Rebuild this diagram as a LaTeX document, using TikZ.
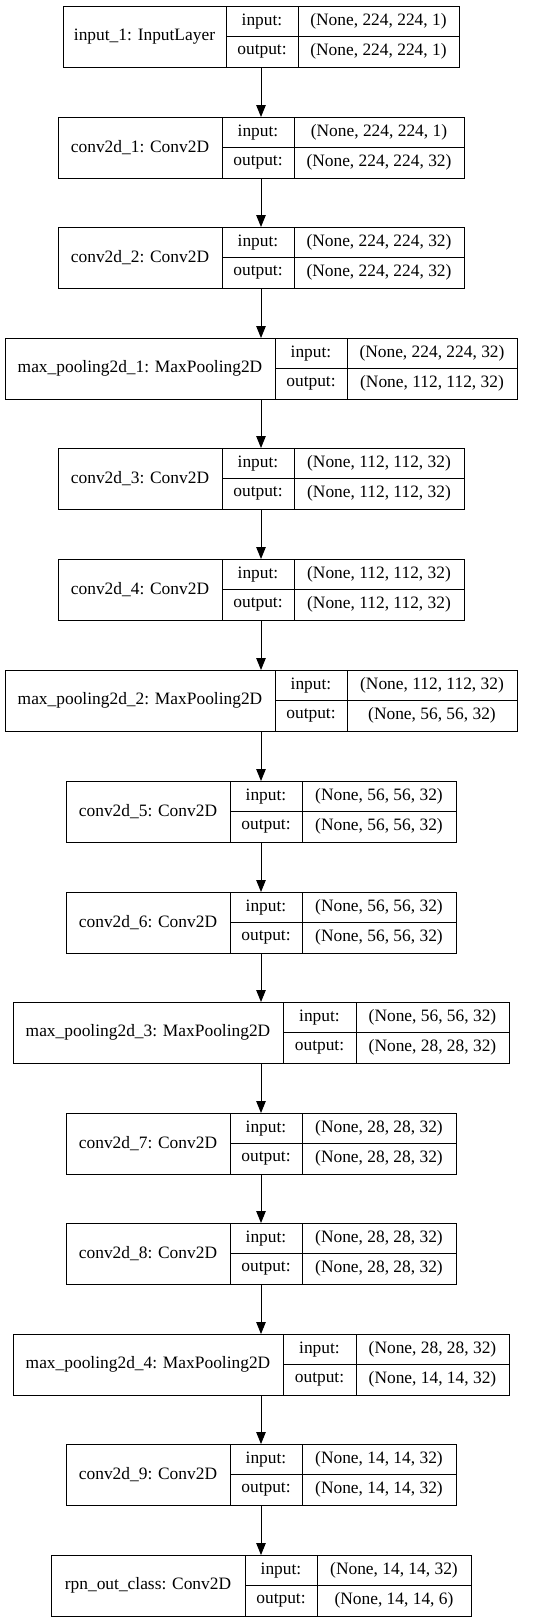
\documentclass[tikz,border=0pt]{standalone}
\usepackage{fontspec}
\setmainfont{Liberation Serif}
\usetikzlibrary{arrows.meta}
\tikzset{
  boxfr/.style={draw=black, line width=1pt, inner sep=0pt, outer sep=0pt},
  cellbox/.style={draw=black, line width=1pt, inner sep=0pt, outer sep=0pt, font=\fontsize{17.4}{20}\selectfont, text=black},
  arr/.style={draw=black, line width=1pt, -{Triangle[length=12pt,width=9.5pt]}}
}
\newcommand{\layerbox}[9]{%
  \pgfmathsetmacro{\wa}{#4-#3}%
  \pgfmathsetmacro{\wb}{#5-#4}%
  \pgfmathsetmacro{\wc}{#6-#5}%
  \pgfmathsetmacro{\wt}{#6-#3}%
  \node[boxfr, minimum width=\wt pt, minimum height=61pt, anchor=north west] (#1) at (#3pt,-#2pt) {};
  \node[cellbox, minimum width=\wa pt, minimum height=61pt, anchor=north west] (#1n) at (#3pt,-#2pt) {#7};
  \node[cellbox, minimum width=\wb pt, minimum height=30.5pt, anchor=north west] (#1i) at (#4pt,-#2pt) {input:};
  \node[cellbox, minimum width=\wb pt, minimum height=30.5pt, anchor=north west] (#1o) at (#4pt,-#2pt-30.5pt) {output:};
  \node[cellbox, minimum width=\wc pt, minimum height=30.5pt, anchor=north west] (#1vi) at (#5pt,-#2pt) {#8};
  \node[cellbox, minimum width=\wc pt, minimum height=30.5pt, anchor=north west] (#1vo) at (#5pt,-#2pt-30.5pt) {#9};
}
\begin{document}
\begin{tikzpicture}
\useasboundingbox (0,0) rectangle (540pt,-1623pt);
\fill[white] (0,0) rectangle (540pt,-1623pt);
\layerbox{b1}{6}{63}{226}{298}{459}{input\_1: InputLayer}{(None, 224, 224, 1)}{(None, 224, 224, 1)}
\layerbox{b2}{117}{58}{222}{294}{464}{conv2d\_1: Conv2D}{(None, 224, 224, 1)}{(None, 224, 224, 32)}
\layerbox{b3}{227}{58}{222}{294}{464}{conv2d\_2: Conv2D}{(None, 224, 224, 32)}{(None, 224, 224, 32)}
\layerbox{b4}{338}{5}{275}{347}{517}{max\_pooling2d\_1: MaxPooling2D}{(None, 224, 224, 32)}{(None, 112, 112, 32)}
\layerbox{b5}{448}{58}{222}{294}{464}{conv2d\_3: Conv2D}{(None, 112, 112, 32)}{(None, 112, 112, 32)}
\layerbox{b6}{559}{58}{222}{294}{464}{conv2d\_4: Conv2D}{(None, 112, 112, 32)}{(None, 112, 112, 32)}
\layerbox{b7}{670}{5}{275}{347}{517}{max\_pooling2d\_2: MaxPooling2D}{(None, 112, 112, 32)}{(None, 56, 56, 32)}
\layerbox{b8}{781}{66}{230}{302}{456}{conv2d\_5: Conv2D}{(None, 56, 56, 32)}{(None, 56, 56, 32)}
\layerbox{b9}{892}{66}{230}{302}{456}{conv2d\_6: Conv2D}{(None, 56, 56, 32)}{(None, 56, 56, 32)}
\layerbox{b10}{1002}{13}{283}{356}{509}{max\_pooling2d\_3: MaxPooling2D}{(None, 56, 56, 32)}{(None, 28, 28, 32)}
\layerbox{b11}{1113}{66}{230}{302}{456}{conv2d\_7: Conv2D}{(None, 28, 28, 32)}{(None, 28, 28, 32)}
\layerbox{b12}{1223}{66}{230}{302}{456}{conv2d\_8: Conv2D}{(None, 28, 28, 32)}{(None, 28, 28, 32)}
\layerbox{b13}{1334}{13}{283}{356}{509}{max\_pooling2d\_4: MaxPooling2D}{(None, 28, 28, 32)}{(None, 14, 14, 32)}
\layerbox{b14}{1444}{66}{230}{302}{456}{conv2d\_9: Conv2D}{(None, 14, 14, 32)}{(None, 14, 14, 32)}
\layerbox{b15}{1555}{51}{245}{317}{471}{rpn\_out\_class: Conv2D}{(None, 14, 14, 32)}{(None, 14, 14, 6)}
\foreach \a/\b in {b1/b2,b2/b3,b3/b4,b4/b5,b5/b6,b6/b7,b7/b8,b8/b9,b9/b10,b10/b11,b11/b12,b12/b13,b13/b14,b14/b15}
  \draw[arr] (\a.south) -- (\b.north);
\end{tikzpicture}
\end{document}
